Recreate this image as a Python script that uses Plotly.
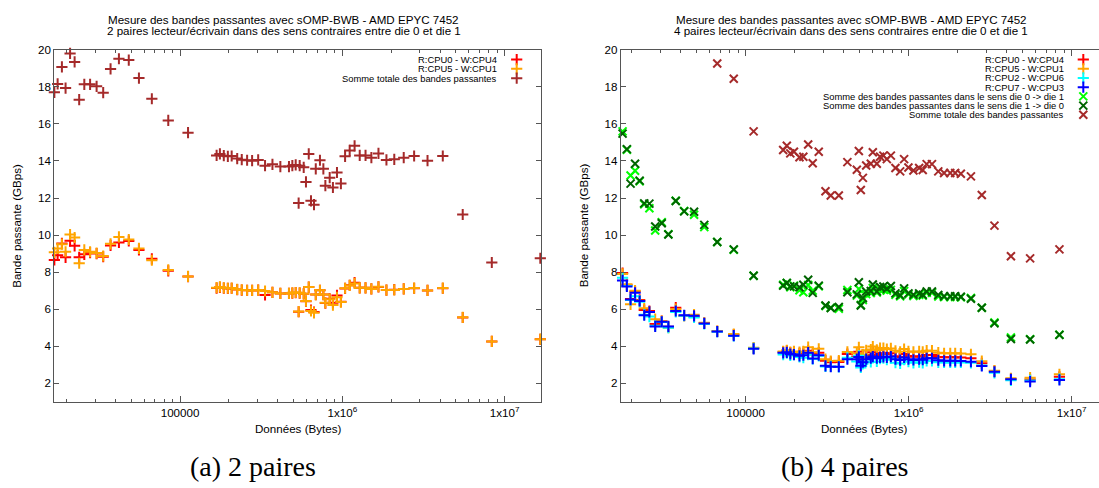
import plotly.graph_objects as go

W, H = 1099, 488

# ---------------- Data: panel (a) 2 paires ----------------
size_a = [16800, 17600, 18700, 19700, 21000, 22400, 23900, 25700, 27900, 30600, 33600, 37300, 42000, 48300, 55800, 67000, 84600, 112000,
          168000, 176000, 186000, 197000, 208000, 225000, 240000, 259000, 278000, 303000,
          334000, 371000, 415000, 469000, 492000, 516000, 538000, 546000, 578000, 597000,
          621000, 641000, 669000, 686000, 728000, 764000, 786000, 836000, 875000, 927000,
          980000, 1040000, 1110000, 1190000, 1280000, 1390000, 1510000, 1670000, 1870000, 2090000,
          2390000, 2770000, 3350000, 4160000, 5520000, 8340000, 16600000]
red_a = [8.66, 8.91, 9.55, 8.80, 9.69, 9.42, 8.80, 8.96, 9.05, 9.00, 8.83, 9.44, 9.60, 9.68, 9.20, 8.72, 8.07, 7.76,
         7.14, 7.18, 7.14, 7.12, 7.13, 7.06, 7.03, 7.02, 7.01, 7.03,
         6.77, 6.91, 6.85, 6.85, 6.87, 6.89, 5.86, 6.87, 6.83, 6.43,
         7.19, 5.95, 5.84, 6.79, 7.02, 6.79, 6.33, 6.56, 6.35, 6.74,
         6.40, 7.12, 7.29, 7.43, 7.15, 7.15, 7.09, 7.20, 7.03, 7.05,
         7.09, 7.13, 7.01, 7.13, 5.55, 4.26, 4.37]
orange_a = [9.07, 9.28, 9.51, 9.10, 10.03, 9.87, 8.48, 9.20, 9.10, 9.03, 8.87, 9.53, 9.90, 9.76, 9.28, 8.64, 8.12, 7.77,
            7.16, 7.20, 7.15, 7.13, 7.14, 7.07, 7.04, 7.02, 7.01, 7.03,
            6.98, 6.91, 6.85, 6.85, 6.88, 6.90, 5.87, 6.88, 6.83, 6.44,
            7.19, 5.90, 5.80, 6.79, 7.02, 6.79, 6.34, 6.54, 6.22, 6.64,
            6.38, 7.13, 7.28, 7.39, 7.15, 7.15, 7.09, 7.21, 7.03, 7.04,
            7.09, 7.14, 7.01, 7.14, 5.56, 4.26, 4.38]
total_a = [17.71, 18.16, 19.08, 17.94, 19.81, 19.35, 17.31, 18.14, 18.14, 18.03, 17.69, 18.97, 19.52, 19.45, 18.48, 17.36, 16.19, 15.53,
           14.30, 14.38, 14.29, 14.25, 14.27, 14.13, 14.07, 14.04, 14.02, 14.06,
           13.75, 13.82, 13.70, 13.70, 13.75, 13.79, 11.73, 13.75, 13.66, 12.87,
           14.38, 11.85, 11.64, 13.58, 14.04, 13.58, 12.67, 13.10, 12.57, 13.38,
           12.78, 14.25, 14.57, 14.82, 14.30, 14.30, 14.18, 14.41, 14.06, 14.09,
           14.18, 14.27, 14.02, 14.27, 11.11, 8.52, 8.75]

# ---------------- Data: panel (b) 4 paires ----------------
size_b = [16800, 17600, 18700, 19700, 21000, 22400, 23900, 25700, 27900, 30600, 33600, 37300, 42000, 48300, 55800, 67000, 84600, 112000,
          170000, 179000, 188000, 198000, 214000, 226000, 242000, 258000, 281000, 309000,
          333000, 373000, 421000, 481000, 495000, 509000, 524000, 549000, 586000, 603000,
          638000, 668000, 700000, 735000, 778000, 830000, 887000, 938000, 997000, 1070000,
          1160000, 1220000, 1290000, 1390000, 1520000, 1650000, 1800000, 1930000, 2090000, 2410000,
          2810000, 3360000, 4240000, 5560000, 8410000]
red_b = [8.17, 7.95, 7.30, 6.55, 6.95, 6.50, 5.95, 5.90, 5.20, 5.35, 5.05, 6.08, 5.65, 5.60, 5.25, 4.80, 4.62, 3.90,
         3.68, 3.75, 3.65, 3.68, 3.62, 3.62, 3.75, 3.56, 3.65, 3.22,
         3.14, 3.15, 3.58, 3.45, 3.70, 3.28, 3.35, 3.50, 3.52, 3.68,
         3.52, 3.60, 3.62, 3.58, 3.62, 3.46, 3.42, 3.58, 3.47, 3.43,
         3.46, 3.44, 3.52, 3.52, 3.42, 3.40, 3.40, 3.40, 3.39, 3.35,
         3.08, 2.65, 2.22, 2.20, 2.35]
orange_b = [8.00, 7.90, 7.35, 6.26, 7.00, 6.45, 6.05, 5.85, 5.46, 5.35, 5.00, 6.00, 5.65, 5.70, 5.26, 4.82, 4.66, 3.92,
            3.72, 3.78, 3.68, 3.72, 3.68, 3.72, 3.95, 3.68, 3.86, 3.30,
            3.20, 3.22, 3.69, 3.60, 3.94, 3.36, 3.55, 3.78, 3.82, 3.98,
            3.80, 3.90, 3.90, 3.85, 3.88, 3.75, 3.70, 3.85, 3.72, 3.70,
            3.72, 3.70, 3.76, 3.76, 3.65, 3.62, 3.62, 3.62, 3.60, 3.56,
            3.19, 2.68, 2.27, 2.30, 2.48]
cyan_b = [7.90, 7.70, 7.25, 6.50, 6.70, 6.40, 5.70, 5.60, 5.10, 5.30, 5.00, 5.85, 5.65, 5.55, 5.20, 4.78, 4.55, 3.88,
          3.55, 3.62, 3.50, 3.55, 3.42, 3.38, 3.54, 3.31, 3.48, 2.91,
          2.91, 2.88, 3.37, 3.18, 3.48, 2.85, 3.05, 3.18, 3.15, 3.37,
          3.18, 3.33, 3.35, 3.27, 3.35, 3.11, 3.07, 3.28, 3.16, 3.10,
          3.14, 3.10, 3.20, 3.20, 3.13, 3.12, 3.12, 3.12, 3.12, 3.10,
          2.96, 2.56, 2.16, 2.15, 2.22]
blue_b = [7.85, 7.55, 7.23, 6.52, 6.88, 6.44, 5.67, 5.85, 5.07, 5.32, 5.07, 5.90, 5.67, 5.64, 5.23, 4.79, 4.57, 3.86,
          3.64, 3.67, 3.58, 3.55, 3.48, 3.51, 3.65, 3.33, 3.51, 2.94,
          2.89, 2.89, 3.30, 3.30, 3.42, 2.94, 3.14, 3.30, 3.36, 3.44,
          3.35, 3.40, 3.42, 3.40, 3.44, 3.30, 3.25, 3.39, 3.30, 3.26,
          3.30, 3.27, 3.35, 3.35, 3.24, 3.21, 3.21, 3.21, 3.20, 3.16,
          2.93, 2.62, 2.21, 2.09, 2.18]
die01_b = [15.92, 15.60, 14.60, 13.22, 13.47, 12.90, 11.66, 11.45, 10.25, 10.70, 10.05, 11.85, 11.30, 11.10, 10.43, 9.63, 9.20, 7.80,
           7.32, 7.41, 7.18, 7.27, 7.02, 6.91, 7.30, 7.00, 7.23, 6.17,
           6.08, 6.02, 7.03, 6.73, 7.09, 6.23, 6.49, 6.81, 6.87, 7.14,
           6.90, 7.03, 7.07, 7.00, 7.04, 6.77, 6.69, 6.98, 6.80, 6.71,
           6.77, 6.73, 6.88, 6.88, 6.68, 6.65, 6.65, 6.65, 6.64, 6.61,
           6.08, 5.28, 4.47, 4.38, 4.62]
die10_b = [15.74, 15.48, 14.64, 12.78, 13.85, 12.94, 11.71, 11.70, 10.46, 10.64, 10.03, 11.84, 11.28, 11.26, 10.55, 9.63, 9.23, 7.80,
           7.27, 7.41, 7.23, 7.23, 7.18, 7.32, 7.59, 6.88, 7.27, 6.20,
           6.06, 6.12, 6.91, 6.80, 7.45, 6.20, 6.60, 6.95, 6.98, 7.33,
           6.95, 7.20, 7.22, 7.10, 7.25, 6.85, 6.75, 7.12, 6.85, 6.78,
           6.85, 6.78, 6.95, 6.95, 6.76, 6.70, 6.70, 6.70, 6.67, 6.56,
           6.08, 5.23, 4.39, 4.36, 4.61]
total_b = [None, None, None, None, None, None, None, None, None, None, None, None, None, None, None, 19.26, 18.44, 15.60,
           14.59, 14.82, 14.41, 14.50, 14.20, 14.23, 14.89, 13.88, 14.50, 12.37,
           12.14, 12.14, 13.94, 13.53, 14.54, 12.43, 13.09, 13.76, 13.85, 14.47,
           13.85, 14.23, 14.29, 14.10, 14.29, 13.62, 13.44, 14.10, 13.65, 13.49,
           13.62, 13.51, 13.83, 13.83, 13.44, 13.35, 13.35, 13.35, 13.31, 13.17,
           12.16, 10.51, 8.86, 8.74, 9.23]

# ---------------- Texts / ticks ----------------
title_a = ["Mesure des bandes passantes avec sOMP-BWB - AMD EPYC 7452",
           "2 paires lecteur/écrivain dans des sens contraires entre die 0 et die 1"]
title_b = ["Mesure des bandes passantes avec sOMP-BWB - AMD EPYC 7452",
           "4 paires lecteur/écrivain dans des sens contraires entre die 0 et die 1"]
caption_a = "(a) 2 paires"
caption_b = "(b) 4 paires"
x_label = "Données (Bytes)"
y_label = "Bande passante (GBps)"
x_tickvals = [1e5, 1e6, 1e7]
x_ticktext = ["100000", "1x10<sup>6</sup>", "1x10<sup>7</sup>"]
y_tickvals = [2, 4, 6, 8, 10, 12, 14, 16, 18, 20]
y_ticktext = ["2", "4", "6", "8", "10", "12", "14", "16", "18", "20"]

names_a = ["R:CPU0 - W:CPU4", "R:CPU5 - W:CPU1", "Somme totale des bandes passantes"]
names_b = ["R:CPU0 - W:CPU4", "R:CPU5 - W:CPU1", "R:CPU2 - W:CPU6", "R:CPU7 - W:CPU3",
           "Somme des bandes passantes dans le sens die 0 -> die 1",
           "Somme des bandes passantes dans le sens die 1 -> die 0",
           "Somme totale des bandes passantes"]

# ---------------- Style ----------------
RED, ORANGE, BROWN = "#ff0000", "#ffa500", "#a52a2a"
CYAN, BLUE, GREEN, DKGREEN = "#00ffff", "#0000ff", "#00ff00", "#006400"
AX = "#555555"
FONT = "Liberation Sans"
TXT = 11.6
LEG = 9.4
MSIZE = 8
MLW = 2

minor_vals = [m * 10 ** e for e in range(4, 8) for m in range(2, 10)]

fig = go.Figure()


def add_marks(xs, ys, color, symbol, xa, ya):
    fig.add_trace(go.Scatter(
        x=xs, y=ys, mode="markers", xaxis=xa, yaxis=ya, showlegend=False,
        cliponaxis=False, hoverinfo="skip",
        marker=dict(symbol=symbol, size=MSIZE, color=color,
                    line=dict(color=color, width=MLW))))


series_a = [(red_a, RED, "cross-thin"), (orange_a, ORANGE, "cross-thin"), (total_a, BROWN, "cross-thin")]
for ys, c, s in series_a:
    add_marks(size_a, ys, c, s, "x", "y")

series_b = [(red_b, RED, "cross-thin"), (orange_b, ORANGE, "cross-thin"), (cyan_b, CYAN, "cross-thin"),
            (blue_b, BLUE, "cross-thin"), (die01_b, GREEN, "x-thin"), (die10_b, DKGREEN, "x-thin"),
            (total_b, BROWN, "x-thin")]
for ys, c, s in series_b:
    add_marks(size_b, ys, c, s, "x2", "y2")

# ---------------- Layout geometry (pixels) ----------------
L_A, R_A = 54.3, 540.7
L_B, R_B = 620.7, 1099.0
TOP, BOT = 43.5, 400.5

annotations = []


def text(x, y, s, size=TXT, anchor="center", angle=0, family=FONT):
    annotations.append(dict(x=x, y=y, xref="x3", yref="y3", text=s, showarrow=False,
                            xanchor=anchor, yanchor="middle", textangle=angle,
                            font=dict(family=family, size=size, color="#000000")))


# legends (symbol at right of right-aligned text)
leg_x_sym, leg_y_sym, leg_c, leg_s = [], [], [], []
for i, (nm, (ys, c, s)) in enumerate(zip(names_a, series_a)):
    y = 53.3 + i * 9.45
    text(499.3, y, nm, size=LEG, anchor="right")
    leg_x_sym.append(516.7); leg_y_sym.append(y); leg_c.append(c); leg_s.append(s)
for i, (nm, (ys, c, s)) in enumerate(zip(names_b, series_b)):
    y = 53.3 + i * 9.35
    text(1066.0, y, nm, size=LEG, anchor="right")
    leg_x_sym.append(1083.3); leg_y_sym.append(y); leg_c.append(c); leg_s.append(s)

fig.add_trace(go.Scatter(x=leg_x_sym, y=leg_y_sym, mode="markers", xaxis="x3", yaxis="y3",
                         showlegend=False, hoverinfo="skip", cliponaxis=False,
                         marker=dict(symbol=leg_s, size=MSIZE, color=leg_c,
                                     line=dict(color=leg_c, width=MLW))))

# titles
for cx, tl in ((283.5, title_a), (851.0, title_b)):
    text(cx, 12.3, tl[0])
    text(cx, 24.3, tl[1])
# axis titles
text(297.5, 427.5, x_label)
text(864.0, 427.5, x_label)
text(17.0, 222.0, y_label, angle=-90)
text(583.5, 222.0, y_label, angle=-90)
# captions
text(253.0, 466.0, caption_a, size=28, family="Liberation Serif")
text(845.0, 466.0, caption_b, size=28, family="Liberation Serif")

xaxis_common = dict(type="log", showgrid=False, zeroline=False, showline=True, linecolor=AX, linewidth=1,
                    mirror="ticks", ticks="inside", ticklen=6, tickwidth=1, tickcolor=AX,
                    tickmode="array", tickvals=x_tickvals, ticktext=x_ticktext,
                    tickfont=dict(family=FONT, size=TXT, color="#000000"),
                    minor=dict(tickmode="array", tickvals=minor_vals, ticks="inside", ticklen=3,
                               tickcolor=AX, tickwidth=1, showgrid=False))
yaxis_common = dict(range=[1, 20], showgrid=False, zeroline=False, showline=True, linecolor=AX, linewidth=1,
                    ticks="inside", ticklen=5, tickwidth=1, tickcolor=AX,
                    tickmode="array", tickvals=y_tickvals, ticktext=y_ticktext,
                    tickfont=dict(family=FONT, size=TXT, color="#000000"),
                    domain=[1 - BOT / H, 1 - TOP / H])

fig.update_layout(
    width=W, height=H, margin=dict(l=0, r=0, t=0, b=0),
    paper_bgcolor="white", plot_bgcolor="rgba(0,0,0,0)",
    showlegend=False,
    xaxis=dict(xaxis_common, domain=[L_A / W, R_A / W], range=[4.225, 7.2225], anchor="y"),
    yaxis=dict(yaxis_common, mirror="ticks", anchor="x"),
    xaxis2=dict(xaxis_common, domain=[L_B / W, R_B / W], range=[4.234, 7.1675], anchor="y2"),
    yaxis2=dict(yaxis_common, mirror=False, anchor="x2"),
    xaxis3=dict(domain=[0, 1], range=[0, W], visible=False, anchor="y3", fixedrange=True),
    yaxis3=dict(domain=[0, 1], range=[H, 0], visible=False, anchor="x3", fixedrange=True),
    annotations=annotations,
)

fig.write_html("out.html")
